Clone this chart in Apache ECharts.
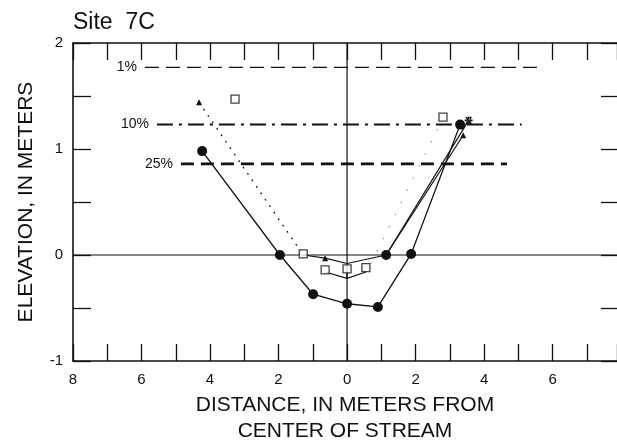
<!DOCTYPE html>
<html>
<head>
<meta charset="utf-8">
<script src="https://cdn.jsdelivr.net/npm/echarts@6/dist/echarts.min.js"></script>
<style>
  html, body { margin: 0; padding: 0; background: #fff; }
  #chart { width: 617px; height: 443px; }
</style>
</head>
<body>
<div id="chart"></div>
<script>
// Site 7C channel cross-section surveys (distance from stream centre, elevation in metres)

// survey drawn with filled circles
const circleX = [-4.23, -1.96, -0.99, 0, 0.9, 1.87, 3.3];
const circleY = [0.98, 0, -0.37, -0.46, -0.49, 0.01, 1.23];

// survey drawn with small triangles: dotted reach on the left bank, then solid
const triDotX = [-4.32, -1.28];
const triDotY = [1.44, 0.0];
const triX = [-1.28, -0.64, 0, 1.14, 3.39];
const triY = [0.0, -0.03, -0.08, 0.0, 1.13];

// survey drawn with open squares
const squareX = [-3.27, -1.28, -0.64, 0, 0.55, 2.8];
const squareY = [1.47, 0.01, -0.14, -0.13, -0.12, 1.30];
// little inverted bed profile under the squares
const squareBedX = [-0.64, 0, 0.55];
const squareBedY = [-0.16, -0.22, -0.16];
const squareStemX = [0, 0];
const squareStemY = [-0.16, -0.22];
// faint dotted right-bank trace
const faintX = [0.7, 2.75];
const faintY = [-0.08, 1.26];

// survey ending in an asterisk
const starX = [1.14, 3.55];
const starY = [0.0, 1.27];

// flood-frequency water surfaces
const floodLabels = ['1%', '10%', '25%'];
const floodElev = [1.77, 1.23, 0.86];
const floodFrom = [-5.9, -5.55, -4.85];
const floodTo = [5.55, 5.1, 4.67];

// axis extents and tick steps (right edge of the frame falls just short of 8 m)
const xMin = -8, xMax = 7.88, xStep = 1;
const yMin = -1, yMax = 2, yStep = 0.5;

const pairs = (xs, ys) => xs.map((x, i) => [x, ys[i]]);
const INK = '#111';
const FONT = '"Liberation Sans", Arial, Helvetica, sans-serif';

const floodStyles = [
  { width: 1.4, type: [14, 7] },
  { width: 2.0, type: [16, 6, 3, 6] },
  { width: 2.6, type: [13, 7] }
];

const asteriskPath = 'path://M4,0H6V10H4Z M0,4H10V6H0Z M1,1.5L2.5,0L9,8.5L7.5,10Z M9,1.5L7.5,0L1,8.5L2.5,10Z';

const floodSeries = floodLabels.map((lab, i) => ({
  type: 'line',
  silent: true,
  symbol: 'circle',
  symbolSize: 0.01,
  showSymbol: true,
  itemStyle: { color: INK },
  data: [[floodFrom[i], floodElev[i]], [floodTo[i], floodElev[i]]],
  lineStyle: Object.assign({ color: INK }, floodStyles[i]),
  label: {
    show: true,
    position: 'left',
    distance: 8,
    color: INK,
    fontFamily: FONT,
    fontSize: 14,
    formatter: p => (p.dataIndex === 0 ? lab : '')
  },
  z: 2
}));

const triSymbols = ['none', 'triangle', 'none', 'circle', 'triangle'];
const triSizes = [0, 6, 0, 10, 6];

const frameLine = { show: true, onZero: false, lineStyle: { color: INK, width: 1.6 } };
const tickStyle = { color: INK, width: 1.3 };

const option = {
  animation: false,
  backgroundColor: '#fff',
  title: {
    text: 'Site  7C',
    left: 68,
    top: 6,
    textStyle: { fontFamily: FONT, fontSize: 23, fontWeight: 'normal', color: INK }
  },
  grid: { left: 73, top: 43, right: 0, bottom: 82, outerBoundsMode: 'none', containLabel: false },
  xAxis: [
    {
      type: 'value', min: xMin, max: xMax, interval: xStep, position: 'bottom',
      axisLine: frameLine,
      axisTick: { show: true, inside: true, length: 17, lineStyle: tickStyle },
      splitLine: { show: false },
      axisLabel: {
        color: INK, fontFamily: FONT, fontSize: 15, margin: 11,
        formatter: v => (Number.isInteger(v) && v % 2 === 0 ? String(Math.abs(v)) : '')
      },
      name: 'DISTANCE, IN METERS FROM\nCENTER OF STREAM',
      nameLocation: 'middle',
      nameGap: 30,
      nameTextStyle: { color: INK, fontFamily: FONT, fontSize: 21, lineHeight: 26 }
    },
    {
      type: 'value', min: xMin, max: xMax, interval: xStep, position: 'top',
      axisLine: frameLine,
      axisTick: { show: true, inside: true, length: 17, lineStyle: tickStyle },
      splitLine: { show: false },
      axisLabel: { show: false }
    }
  ],
  yAxis: [
    {
      type: 'value', min: yMin, max: yMax, interval: yStep, position: 'left',
      axisLine: frameLine,
      axisTick: { show: true, inside: true, length: 18, lineStyle: tickStyle },
      splitLine: { show: false },
      axisLabel: {
        color: INK, fontFamily: FONT, fontSize: 15, margin: 10,
        formatter: v => (Number.isInteger(v) ? String(v) : '')
      },
      name: 'ELEVATION, IN METERS',
      nameLocation: 'middle',
      nameGap: 36,
      nameTextStyle: { color: INK, fontFamily: FONT, fontSize: 21 }
    },
    {
      type: 'value', min: yMin, max: yMax, interval: yStep, position: 'right',
      axisLine: { show: false, onZero: false },
      axisTick: { show: true, inside: true, length: 16, lineStyle: tickStyle },
      splitLine: { show: false },
      axisLabel: { show: false }
    }
  ],
  series: [
    // zero elevation line and stream centre line
    {
      type: 'line', silent: true, symbol: 'none',
      data: [[xMin, 0], [xMax, 0]],
      lineStyle: { color: INK, width: 1.2 }, z: 1
    },
    {
      type: 'line', silent: true, symbol: 'none',
      data: [[0, yMin], [0, yMax]],
      lineStyle: { color: INK, width: 1.2 }, z: 1
    },
    ...floodSeries,
    // faint dotted right-bank trace
    {
      type: 'line', silent: true, symbol: 'none',
      data: pairs(faintX, faintY),
      lineStyle: { color: '#9a9a9a', width: 1.2, type: [1.5, 12] }, z: 3
    },
    // triangles, dotted reach
    {
      type: 'line', silent: true,
      data: pairs(triDotX, triDotY),
      symbol: (v, p) => (p.dataIndex === 0 ? 'triangle' : 'none'),
      symbolSize: 6,
      itemStyle: { color: INK },
      lineStyle: { color: INK, width: 1.3, type: [1.8, 6] }, z: 4
    },
    // triangles, solid reach
    {
      type: 'line', silent: true,
      data: pairs(triX, triY),
      symbol: (v, p) => triSymbols[p.dataIndex],
      symbolSize: (v, p) => triSizes[p.dataIndex],
      itemStyle: { color: INK },
      lineStyle: { color: INK, width: 1.2 }, z: 4
    },
    // asterisk survey
    {
      type: 'line', silent: true,
      data: pairs(starX, starY),
      symbol: (v, p) => (p.dataIndex === 0 ? 'none' : asteriskPath),
      symbolSize: 8,
      itemStyle: { color: INK },
      lineStyle: { color: INK, width: 1.2 }, z: 4
    },
    // filled circles survey
    {
      type: 'line', silent: true,
      data: pairs(circleX, circleY),
      symbol: 'circle', symbolSize: 10,
      itemStyle: { color: INK },
      lineStyle: { color: INK, width: 1.3 }, z: 5
    },
    // bed profile under the squares
    {
      type: 'line', silent: true, symbol: 'none',
      data: pairs(squareBedX, squareBedY),
      lineStyle: { color: INK, width: 1.2 }, z: 4
    },
    {
      type: 'line', silent: true, symbol: 'none',
      data: pairs(squareStemX, squareStemY),
      lineStyle: { color: INK, width: 1.2 }, z: 4
    },
    // open squares survey
    {
      type: 'scatter', silent: true,
      data: pairs(squareX, squareY),
      symbol: 'rect', symbolSize: 8,
      itemStyle: { color: '#fff', borderColor: INK, borderWidth: 1.3 }, z: 6
    }
  ]
};

const chart = echarts.init(document.getElementById('chart'), null, { renderer: 'canvas' });
chart.setOption(option);
</script>
</body>
</html>
